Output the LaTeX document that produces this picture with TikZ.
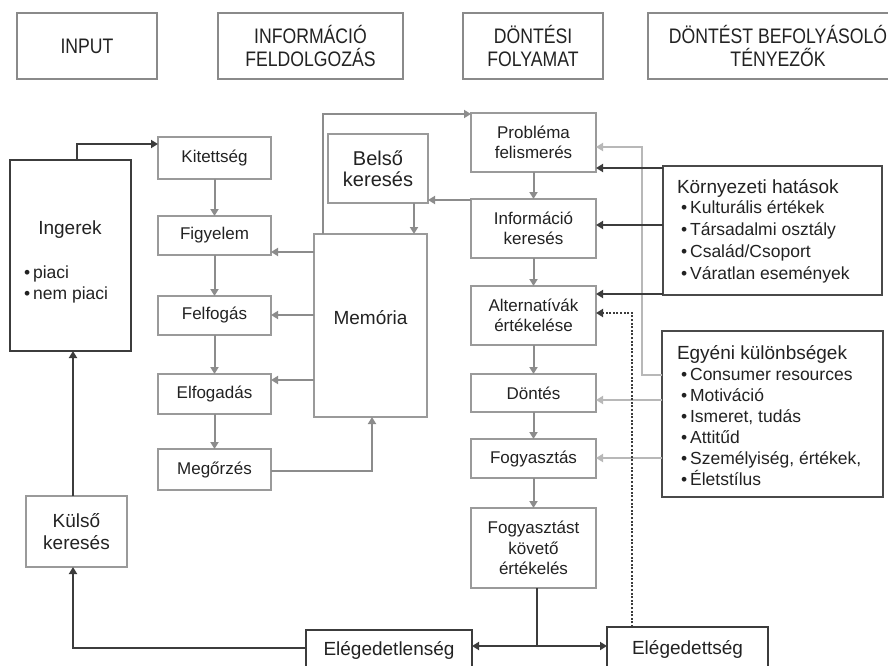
\documentclass[tikz,border=0pt]{standalone}
\usepackage{fontspec}
\setmainfont{Liberation Sans}
\newfontfamily\headfont[FakeStretch=0.84]{Liberation Sans}
\usetikzlibrary{arrows.meta}
\newcommand{\fsz}[2]{\fontsize{#1}{#2}\selectfont}
\newcommand{\bul}{\textbullet\hspace{3pt}}
\definecolor{boxgray}{HTML}{9A9A9A}
\definecolor{arrgray}{HTML}{8C8C8C}
\definecolor{darkline}{HTML}{3C3C3C}
\definecolor{facline}{HTML}{4A4A4A}
\definecolor{lightline}{HTML}{B8B8B8}
\definecolor{headgray}{HTML}{8A8A8A}
\definecolor{txt}{HTML}{222222}
\begin{document}
\begin{tikzpicture}[x=1pt,y=-1pt,
  every node/.style={text=txt},
  hbox/.style={draw=headgray, line width=2pt, inner sep=0pt, outer sep=0pt, align=center, font=\headfont\fsz{21}{23}},
  gbox/.style={draw=boxgray, line width=1.8pt, inner sep=0pt, outer sep=0pt, align=center, font=\fsz{17}{20.5}},
  dbox/.style={draw=darkline, line width=2.2pt, inner sep=0pt, outer sep=0pt, align=center, font=\fsz{19}{22}},
  fbox/.style={draw=facline, line width=2pt, inner sep=0pt, outer sep=0pt},
  lbl/.style={inner sep=0pt, outer sep=0pt},
  tip/.style={-{Triangle[length=7pt,width=8pt]}},
  garr/.style={draw=arrgray, line width=2pt, tip},
  darr/.style={draw=darkline, line width=2.2pt, tip},
  dline/.style={draw=darkline, line width=2.2pt},
  larr/.style={draw=lightline, line width=2pt, tip},
  dotarr/.style={draw=darkline, line width=2pt, dash pattern=on 2pt off 1.6pt, tip}
]
\useasboundingbox (0,0) rectangle (888,666);
\clip (0,0) rectangle (888,666);
\fill[white] (0,0) rectangle (888,666);

% header
\node[hbox, minimum width=140pt, minimum height=66pt] (hin) at (87,46) {INPUT};
\node[hbox, minimum width=185pt, minimum height=66pt] (hinfo) at (310.5,46) {INFORMÁCIÓ\\FELDOLGOZÁS};
\node[hbox, minimum width=140pt, minimum height=66pt] (hdont) at (533,46) {DÖNTÉSI\\FOLYAMAT};
\node[hbox, minimum width=260pt, minimum height=66pt] (hbef) at (778,46) {DÖNTÉST BEFOLYÁSOLÓ\\TÉNYEZŐK};

% input column
\node[dbox, minimum width=121pt, minimum height=191pt] (ing) at (70.5,255.5) {};
\node[lbl, font=\fsz{19}{22}] (ingt) at (70,230) {Ingerek};
\node[lbl, anchor=base west, font=\fsz{17.5}{21}] (ingb1) at (24,278) {\bul piaci};
\node[lbl, anchor=base west, font=\fsz{17.5}{21}] (ingb2) at (24,299) {\bul nem piaci};
\node[gbox, font=\fsz{19}{22}, minimum width=101pt, minimum height=71pt] (kul) at (76.5,531.5) {Külső\\keresés};

% information processing column
\node[gbox, minimum width=113pt, minimum height=42pt] (kit) at (214.5,158) {Kitettség};
\node[gbox, minimum width=113pt, minimum height=39pt] (fig) at (214.5,235.5) {Figyelem};
\node[gbox, minimum width=113pt, minimum height=39pt] (fel) at (214.5,315.5) {Felfogás};
\node[gbox, minimum width=113pt, minimum height=40pt] (elf) at (214.5,394) {Elfogadás};
\node[gbox, minimum width=113pt, minimum height=41pt] (meg) at (214.5,469.5) {Megőrzés};
\node[gbox, minimum width=113pt, minimum height=183pt] (mem) at (370.5,325.5) {};
\node[lbl, font=\fsz{19}{22}] (memt) at (370.5,318) {Memória};
\node[gbox, font=\fsz{20}{21}, minimum width=100pt, minimum height=69pt] (bel) at (378,168.5) {Belső\\keresés};

% decision column
\node[gbox, minimum width=125pt, minimum height=59pt] (prob) at (533.5,142.5) {Probléma\\felismerés};
\node[gbox, minimum width=125pt, minimum height=59pt] (infk) at (533.5,228.5) {Információ\\keresés};
\node[gbox, minimum width=125pt, minimum height=59pt] (alt) at (533.5,315.5) {Alternatívák\\értékelése};
\node[gbox, minimum width=125pt, minimum height=38pt] (dont) at (533.5,393) {Döntés};
\node[gbox, minimum width=125pt, minimum height=39pt] (fogy) at (533.5,458.5) {Fogyasztás};
\node[gbox, minimum width=125pt, minimum height=80pt] (fkov) at (533.5,548) {Fogyasztást\\követő\\értékelés};
\node[dbox, minimum width=166pt, minimum height=40pt] (eged) at (389,650) {Elégedetlenség};
\node[dbox, minimum width=161pt, minimum height=44pt] (egd) at (687.5,649) {Elégedettség};

% factor boxes
\node[fbox, minimum width=219pt, minimum height=129pt] (korny) at (772.5,230.5) {};
\node[lbl, anchor=base west, font=\fsz{19}{22}] (k0) at (677,193) {Környezeti hatások};
\node[lbl, anchor=base west, font=\fsz{17.5}{21}] (k1) at (681,213) {\bul Kulturális értékek};
\node[lbl, anchor=base west, font=\fsz{17.5}{21}] (k2) at (681,235) {\bul Társadalmi osztály};
\node[lbl, anchor=base west, font=\fsz{17.5}{21}] (k3) at (681,257) {\bul Család/Csoport};
\node[lbl, anchor=base west, font=\fsz{17.5}{21}] (k4) at (681,279) {\bul Váratlan események};

\node[fbox, minimum width=221pt, minimum height=166pt] (egy) at (772.5,414) {};
\node[lbl, anchor=base west, font=\fsz{19}{22}] (e0) at (677,359) {Egyéni különbségek};
\node[lbl, anchor=base west, font=\fsz{17.5}{21}] (e1) at (681,380) {\bul Consumer resources};
\node[lbl, anchor=base west, font=\fsz{17.5}{21}] (e2) at (681,401) {\bul Motiváció};
\node[lbl, anchor=base west, font=\fsz{17.5}{21}] (e3) at (681,422) {\bul Ismeret, tudás};
\node[lbl, anchor=base west, font=\fsz{17.5}{21}] (e4) at (681,443) {\bul Attitűd};
\node[lbl, anchor=base west, font=\fsz{17.5}{21}] (e5) at (681,464) {\bul Személyiség, értékek,};
\node[lbl, anchor=base west, font=\fsz{17.5}{21}] (e6) at (681,485) {\bul Életstílus};

% coordinates
\coordinate (lgc) at (642,147);
\coordinate (split) at (537,646);

% light gray connectors (individual differences)
\draw[larr] (egy.west |- 0,375) -| (lgc) -- (prob.east |- lgc);
\draw[larr] (egy.west |- 0,400) -- (dont.east |- 0,400);
\draw[larr] (egy.west |- 0,458) -- (fogy.east |- 0,458);

% dotted feedback
\draw[dotarr] (egd.north -| 632,0) |- (alt.east |- 0,313);

% environmental influences
\draw[darr] (korny.west |- 0,168) -- (prob.east |- 0,168);
\draw[darr] (korny.west |- 0,225) -- (infk.east |- 0,225);
\draw[darr] (korny.west |- 0,294) -- (alt.east |- 0,294);

% information processing flow
\draw[darr] (ing.north -| 77,0) |- (kit.west |- 0,144);
\draw[garr] (kit) -- (fig);
\draw[garr] (fig) -- (fel);
\draw[garr] (fel) -- (elf);
\draw[garr] (elf) -- (meg);
\draw[garr] (mem.west |- 0,252) -- (fig.east |- 0,252);
\draw[garr] (mem.west |- 0,315) -- (fel.east |- 0,315);
\draw[garr] (mem.west |- 0,380) -- (elf.east |- 0,380);
\draw[garr] (meg.east |- 0,471) -| (mem.south -| 372,0);
\draw[garr] (mem.north -| 323,0) |- (prob.west |- 0,114);
\draw[garr] (bel.south -| 414,0) -- (mem.north -| 414,0);
\draw[garr] (infk.west |- 0,200) -- (bel.east |- 0,200);

% decision flow
\draw[garr] (prob) -- (infk);
\draw[garr] (infk) -- (alt);
\draw[garr] (alt) -- (dont);
\draw[garr] (dont) -- (fogy);
\draw[garr] (fogy) -- (fkov);

% outcomes
\draw[dline] (fkov.south -| split) -- (split);
\draw[darr] (split) -- (eged.east |- split);
\draw[darr] (split) -- (egd.west |- split);
\draw[darr] (eged.west |- 0,648) -| (kul.south -| 73,0);
\draw[darr] (kul.north -| 73,0) -- (ing.south -| 73,0);
\end{tikzpicture}
\end{document}
